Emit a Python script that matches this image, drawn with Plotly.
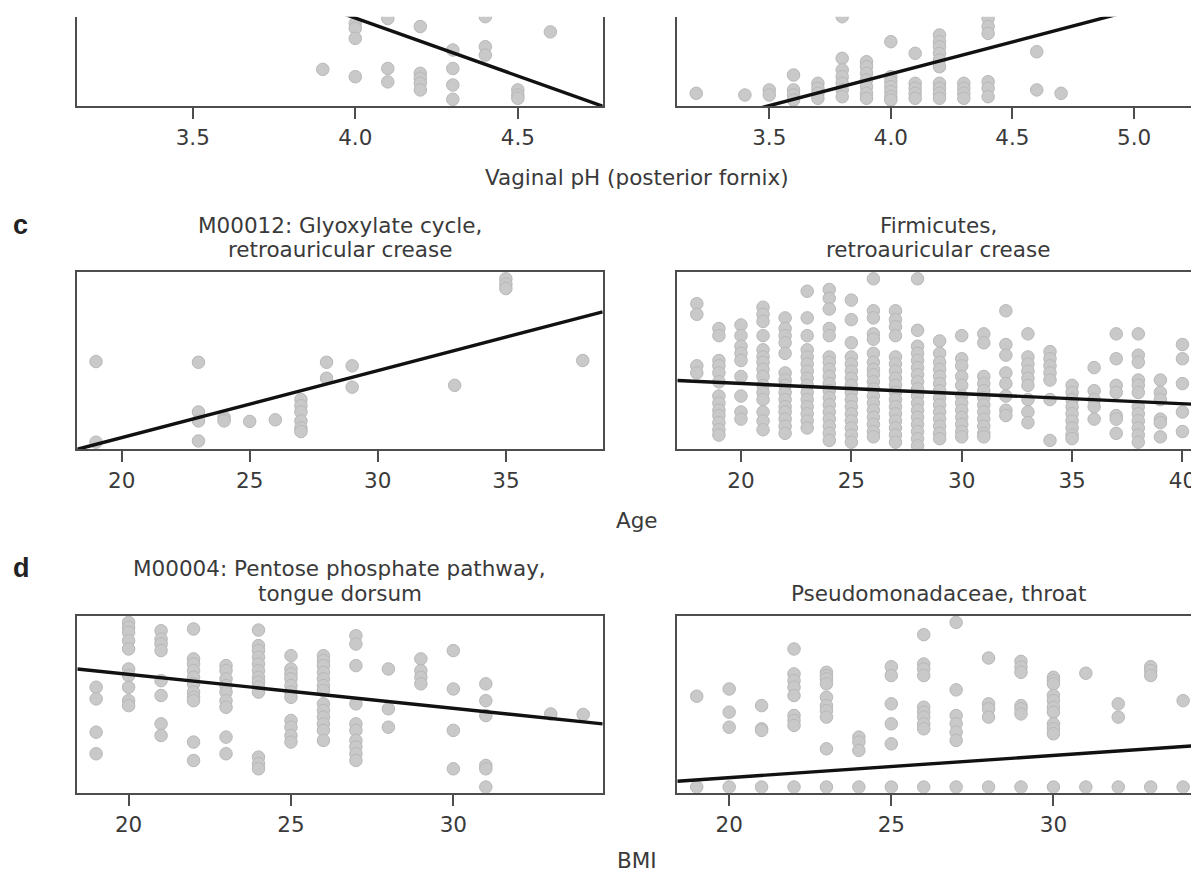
import plotly.graph_objects as go

# ---------------- data (y = position within the visible plot box, 0..100) -------------
# Panel: vaginal pH, left (top row)
ph_left_by_x = {
    3.9: [41],
    4.0: [92.5, 87, 75.7, 32.8],
    4.1: [98, 42, 27],
    4.2: [89, 36.6, 31, 25.4, 18],
    4.3: [62.7, 42, 23.5, 7.5],
    4.4: [100, 66.4, 57],
    4.5: [18, 12.3, 8.6],
    4.6: [83],
}
ph_left_fit = (617.3, -129.7)          # intercept, slope
ph_left_ticks = [3.5, 4.0, 4.5]

# Panel: vaginal pH, right (top row)
ph_right_by_x = {
    3.2: [14.2],
    3.4: [12.3],
    3.5: [18, 12.3],
    3.6: [34.7, 18, 12.3, 6.7],
    3.7: [25.4, 19.8, 14.2, 8.6],
    3.8: [100, 53.4, 40.3, 32.8, 25.4, 18, 10.4],
    3.9: [49.6, 44, 36.6, 29.1, 21.6, 14.2, 8.6],
    4.0: [72, 32.8, 27.2, 21.6, 16, 10.4, 6.7],
    4.1: [59, 25.4, 19.8, 14.2, 8.6],
    4.2: [79.5, 72, 66.4, 59, 51.5, 44, 25.4, 19.8, 14.2, 8.6],
    4.3: [25.4, 19.8, 14.2, 8.6],
    4.4: [98, 89, 81.3, 27.2, 19.8, 10.4],
    4.6: [60.8, 18],
    4.7: [14.2],
}
ph_right_fit = (-249.9, 71.5)
ph_right_ticks = [3.5, 4.0, 4.5, 5.0]

# Panel c left: M00012 Glyoxylate cycle vs age
glyox_by_age = {
    19: [49.4, 4],
    23: [49, 21, 16, 4.7],
    24: [18, 16],
    25: [15.7],
    26: [16.6],
    27: [28, 24.5, 21, 16, 12, 10],
    28: [49, 40],
    29: [47, 35],
    33: [36],
    35: [96, 93, 90.5],
    38: [50],
}
glyox_fit = (-68.95, 3.774)
glyox_ticks = [20, 25, 30, 35]

# Panel c right: Firmicutes vs age
firm_by_age = {
    18: [82, 76, 47, 43],
    19: [68, 64, 50, 47, 43, 38, 30, 26, 22, 19, 15, 11, 8],
    20: [70, 64, 58, 54, 50, 41, 30, 21, 17],
    21: [80, 76, 72, 64, 56, 52, 49, 45, 41, 36, 32, 28, 21, 16, 11],
    22: [74, 68, 64, 60, 54, 43, 39, 36, 32, 28, 24, 21, 17, 13, 9],
    23: [89, 74, 64, 56, 52, 48, 44, 40, 36, 32, 28, 24, 20, 16, 12],
    24: [90, 85, 79, 68, 64, 52, 49, 45, 41, 37, 33, 29, 25, 21, 17, 13, 9, 5],
    25: [84, 73, 60, 52, 48, 44, 40, 36, 32, 28, 24, 20, 16, 12, 8, 4],
    26: [96, 78, 74, 65, 62, 54, 49, 45, 42, 38, 34, 30, 26, 22, 18, 14, 10, 7],
    27: [78, 73, 69, 64, 52, 48, 44, 40, 36, 32, 28, 24, 20, 16, 12, 8, 4],
    28: [96, 67, 58, 54, 50, 46, 42, 38, 34, 30, 26, 22, 18, 14, 10, 6, 2],
    29: [61, 54, 49, 45, 41, 37, 33, 29, 25, 21, 17, 13, 9, 6],
    30: [64, 51, 47, 41, 36, 30, 26, 22, 18, 14, 10, 7],
    31: [65, 60, 41, 37, 33, 29, 25, 21, 17, 13, 9, 7],
    32: [78, 59, 53, 43, 37, 30, 22, 19],
    33: [65, 52, 48, 44, 40, 36, 28, 21, 15],
    34: [55, 51, 47, 43, 39, 28, 5],
    35: [36, 32, 28, 24, 20, 16, 12, 8, 6],
    36: [46, 33, 28, 24, 17],
    37: [65, 51, 36, 32, 19, 17, 9],
    38: [65, 53, 49, 39, 36, 32, 24, 20, 16, 12, 8, 4],
    39: [39, 32, 28, 17, 15, 7],
    40: [59, 51, 37, 21, 10],
}
firm_fit = (48.48, -0.5712)
firm_ticks = [20, 25, 30, 35, 40]

# Panel d left: M00004 Pentose phosphate pathway vs BMI
pent_by_bmi = {
    19: [59.6, 53, 34.2, 22],
    20: [96.2, 93.4, 90.6, 85.9, 81.2, 69.9, 66.2, 59.6, 52, 49.2],
    21: [91.5, 86.8, 84, 80.3, 63.3, 54.9, 38.9, 32.3],
    22: [92.5, 75.6, 72.7, 69, 65.2, 61.5, 56.8, 53.9, 52, 28.6, 18.2],
    23: [71.8, 69, 64.3, 60.5, 56.8, 52, 48.3, 31.4, 22],
    24: [91.9, 83.1, 80.3, 76.5, 72.7, 69, 65.2, 62.4, 59.6, 56.8, 20.1, 16.4, 13.5],
    25: [77.4, 69.9, 67.1, 64.3, 60.5, 56.8, 53.9, 40.8, 37, 32.3, 28.6],
    26: [77.4, 74.6, 71.8, 68, 64.3, 60.5, 57.7, 50.2, 46.4, 42.7, 38.9, 35.2, 29.5],
    27: [88.7, 84, 71.8, 50.2, 38.9, 35.2, 29.5, 25.8, 22, 18.2],
    28: [69.9, 47.4, 37],
    29: [75.6, 69, 65.2, 61.5],
    30: [80.3, 58.6, 35.2, 13.5],
    31: [61.5, 52, 43.6, 15.4, 13.5, 3.2],
    33: [44.5],
    34: [44.2],
}
pent_fit = (105.19, -1.916)
pent_ticks = [20, 25, 30]

# Panel d right: Pseudomonadaceae vs BMI
pseudo_by_bmi = {
    19: [54.5, 3.2],
    20: [58.6, 45.5, 37, 3.2],
    21: [49.2, 36.1, 35.2, 3.2],
    22: [81.2, 67.1, 63.3, 59.6, 54.9, 43.6, 40.8, 38, 3.2],
    23: [68, 66.2, 64.3, 61.5, 53.9, 49.2, 46.4, 42.7, 24.8, 3.2],
    24: [31.4, 28.6, 23.9, 3.2],
    25: [71.2, 66.2, 50.2, 38.9, 27.6, 3.2],
    26: [89.3, 72.7, 69.9, 66.2, 48.3, 45.5, 42.7, 38.9, 36.1, 3.2],
    27: [96.2, 58.1, 43.6, 38.9, 34.2, 29.5, 3.2],
    28: [76.1, 50.2, 47.4, 42.7, 3.2],
    29: [74.2, 70.9, 68, 49.2, 47.4, 44.5, 3.2],
    30: [65.2, 63.3, 61.5, 54.9, 52, 48.3, 45.5, 38.9, 36.1, 33.3, 3.2],
    31: [67.5, 3.2],
    32: [50.2, 42.7, 3.2],
    33: [71.2, 69, 66.2, 3.2],
    34: [52, 3.2],
}
pseudo_fit = (-16.6, 1.2554)
pseudo_ticks = [20, 25, 30]

# ---------------- layout helpers ----------------
# The page body adds an 8 px margin, so the figure is drawn 8 px smaller and
# every target position (given in window pixels) is shifted by 8 px.
OFF = 8
W, H = 1199 - OFF, 872 - OFF
FONT = "DejaVu Sans, Verdana, sans-serif"
FS = 21.5
TXT = "#3a3a3a"
FRAME = "#4d4d4d"


def fx(p):
    return (p - OFF) / W


def fy(p):
    return 1 - (p - OFF) / H


LEFT = [fx(77.3), fx(602.7)]
RIGHT = [fx(677.3), 1.0]
ROW_TOP = [fy(106), fy(16.7)]
ROW_MID = [fy(449.3), fy(271.7)]
ROW_BOT = [fy(792.7), fy(615.7)]

panels = [
    dict(data=ph_left_by_x, fit=ph_left_fit, xr=[3.145, 4.761], ticks=ph_left_ticks, fmt=".1f",
         xd=LEFT, yd=ROW_TOP, topline=False, rightline=True),
    dict(data=ph_right_by_x, fit=ph_right_fit, xr=[3.122, 5.267], ticks=ph_right_ticks, fmt=".1f",
         xd=RIGHT, yd=ROW_TOP, topline=False, rightline=False),
    dict(data=glyox_by_age, fit=glyox_fit, xr=[18.27, 38.78], ticks=glyox_ticks, fmt="d",
         xd=LEFT, yd=ROW_MID, topline=True, rightline=True),
    dict(data=firm_by_age, fit=firm_fit, xr=[17.115, 40.75], ticks=firm_ticks, fmt="d",
         xd=RIGHT, yd=ROW_MID, topline=True, rightline=False),
    dict(data=pent_by_bmi, fit=pent_fit, xr=[18.42, 34.6], ticks=pent_ticks, fmt="d",
         xd=LEFT, yd=ROW_BOT, topline=True, rightline=True),
    dict(data=pseudo_by_bmi, fit=pseudo_fit, xr=[18.40, 34.49], ticks=pseudo_ticks, fmt="d",
         xd=RIGHT, yd=ROW_BOT, topline=True, rightline=False),
]

fig = go.Figure()
layout = {}
for i, p in enumerate(panels, start=1):
    sfx = "" if i == 1 else str(i)
    xs, ys = [], []
    for xv, yl in p["data"].items():
        for yv in yl:
            xs.append(xv)
            ys.append(yv)
    fig.add_trace(go.Scatter(
        x=xs, y=ys, mode="markers", xaxis="x" + sfx, yaxis="y" + sfx,
        marker=dict(size=12.5, color="#c9c9c9", line=dict(color="#b8b8b8", width=1)),
        showlegend=False, hoverinfo="skip"))
    b0, b1 = p["fit"]
    lx = p["xr"]
    ly = [b0 + b1 * v for v in lx]
    fig.add_trace(go.Scatter(
        x=lx, y=ly, mode="lines", xaxis="x" + sfx, yaxis="y" + sfx,
        line=dict(color="#111111", width=3.4), showlegend=False, hoverinfo="skip"))
    layout["xaxis" + sfx] = dict(
        domain=p["xd"], anchor="y" + sfx, range=p["xr"],
        showline=True, linecolor=FRAME, linewidth=2, mirror=p["topline"],
        ticks="outside", ticklen=11, tickwidth=2, tickcolor=FRAME,
        tickvals=p["ticks"], tickformat=p["fmt"], ticklabelstandoff=0,
        tickfont=dict(family=FONT, size=FS, color=TXT),
        showgrid=False, zeroline=False, fixedrange=True)
    layout["yaxis" + sfx] = dict(
        domain=p["yd"], anchor="x" + sfx, range=[0, 100],
        showline=True, linecolor=FRAME, linewidth=2, mirror=p["rightline"],
        showticklabels=False, ticks="", showgrid=False, zeroline=False, fixedrange=True)

anns = []


def text(s, xp, yp, size=FS, bold=False):
    anns.append(dict(text=("<b>%s</b>" % s) if bold else s, x=fx(xp), y=fy(yp),
                     xref="paper", yref="paper", xanchor="center", yanchor="middle",
                     showarrow=False,
                     font=dict(family=("Liberation Sans, Arial, sans-serif" if bold else FONT),
                               size=size, color=("#222" if bold else TXT))))


text("Vaginal pH (posterior fornix)", 637, 177)
text("c", 20.8, 225, size=27, bold=True)
text("M00012: Glyoxylate cycle,", 340, 225)
text("retroauricular crease", 340, 250)
text("Firmicutes,", 938, 225)
text("retroauricular crease", 938, 250)
text("Age", 637, 520.7)
text("d", 21.5, 568, size=27, bold=True)
text("M00004: Pentose phosphate pathway,", 340, 568)
text("tongue dorsum", 340, 593)
text("Pseudomonadaceae, throat", 938, 593)
text("BMI", 637, 860.3)

fig.update_layout(
    width=W, height=H, margin=dict(l=0, r=0, t=0, b=0),
    paper_bgcolor="white", plot_bgcolor="white",
    annotations=anns, **layout)

fig.write_html("out.html")
